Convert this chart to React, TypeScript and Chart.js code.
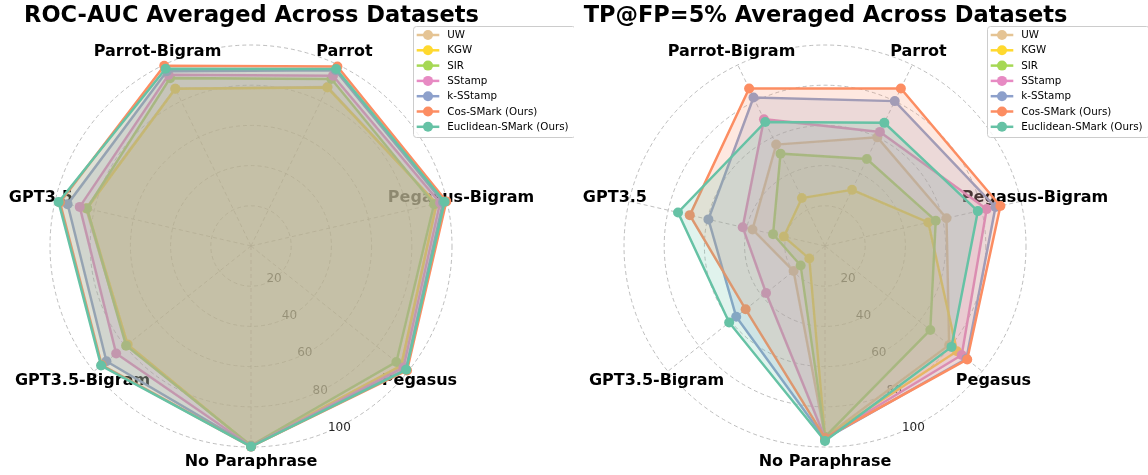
import React, { useEffect, useRef } from "react";
import { Chart, registerables } from "chart.js";

Chart.register(...registerables);

// Categories in clockwise order starting from the bottom axis
const categories = [
  "No Paraphrase",
  "GPT3.5-Bigram",
  "GPT3.5",
  "Parrot-Bigram",
  "Parrot",
  "Pegasus-Bigram",
  "Pegasus",
];
const methods = [
  "UW",
  "KGW",
  "SIR",
  "SStamp",
  "k-SStamp",
  "Cos-SMark (Ours)",
  "Euclidean-SMark (Ours)",
];
const colors = ["#e5c494", "#ffd92f", "#a6d854", "#e78ac3", "#8da0cb", "#fc8d62", "#66c2a5"];
const tickValues = [20, 40, 60, 80, 100];

// ROC-AUC (same category order as above)
const rocUW = [99.5, 79.0, 84.2, 86.8, 87.8, 94.7, 95.8];
const rocKGW = [99.5, 78.5, 83.7, 86.8, 87.5, 94.7, 95.5];
const rocSIR = [99.3, 79.5, 83.7, 92.7, 92.2, 93.4, 92.5];
const rocSStamp = [99.6, 85.8, 87.4, 94.5, 94.0, 96.5, 97.0];
const rocKSStamp = [99.7, 92.0, 93.6, 96.5, 97.0, 98.0, 98.5];
const rocCos = [99.8, 95.0, 97.5, 99.5, 99.1, 99.7, 99.3];
const rocEuc = [99.8, 95.4, 98.2, 97.9, 97.7, 98.8, 98.8];

// TP@FP=5%
const tpUW = [95.0, 20.0, 37.0, 56.0, 60.0, 62.0, 79.0];
const tpKGW = [95.0, 10.0, 21.0, 26.5, 31.0, 52.7, 84.0];
const tpSIR = [95.0, 15.5, 26.5, 51.0, 48.0, 56.5, 67.0];
const tpSStamp = [95.5, 37.5, 42.0, 70.0, 63.0, 82.5, 87.0];
const tpKSStamp = [96.0, 56.5, 59.5, 82.0, 80.0, 87.0, 90.0];
const tpCos = [95.5, 50.5, 69.0, 87.0, 87.0, 89.5, 90.5];
const tpEuc = [97.0, 61.0, 75.0, 68.5, 68.0, 78.0, 80.5];

const rocSeries = [rocUW, rocKGW, rocSIR, rocSStamp, rocKSStamp, rocCos, rocEuc];
const tpSeries = [tpUW, tpKGW, tpSIR, tpSStamp, tpKSStamp, tpCos, tpEuc];

const FONT = "'DejaVu Sans', sans-serif";
const W = 574;
const H = 475;

function hexToRgba(hex: string, a: number) {
  const n = parseInt(hex.slice(1), 16);
  return `rgba(${(n >> 16) & 255},${(n >> 8) & 255},${n & 255},${a})`;
}

function makeDecor(title: string) {
  return {
    id: "decor",
    beforeDatasetsDraw(chart: any) {
      const s = chart.scales.r;
      const ctx = chart.ctx as CanvasRenderingContext2D;
      ctx.save();
      ctx.font = `bold 16px ${FONT}`;
      ctx.fillStyle = "#000";
      ctx.textAlign = "center";
      ctx.textBaseline = "middle";
      categories.forEach((c, i) => {
        const p = s.getPointPosition(i, s.drawingArea * 1.072);
        ctx.fillText(c, p.x, p.y);
      });
      ctx.font = `12px ${FONT}`;
      ctx.fillStyle = "#262626";
      ctx.textAlign = "left";
      ctx.textBaseline = "alphabetic";
      const a = Math.PI / 2 - (22.5 * Math.PI) / 180;
      tickValues.forEach((v) => {
        const d = s.getDistanceFromCenterForValue(v);
        ctx.fillText(String(v), s.xCenter + Math.cos(a) * d, s.yCenter + Math.sin(a) * d - 1);
      });
      ctx.restore();
    },
    afterDraw(chart: any) {
      const s = chart.scales.r;
      const ctx = chart.ctx as CanvasRenderingContext2D;
      ctx.save();
      // title
      ctx.font = `bold 22.5px ${FONT}`;
      ctx.fillStyle = "#000";
      ctx.textAlign = "center";
      ctx.textBaseline = "alphabetic";
      ctx.fillText(title, s.xCenter + 0.5, 22);
      // legend
      const bx = 413.5, by = 26.5, bw = 162, bh = 111;
      ctx.beginPath();
      ctx.roundRect(bx, by, bw, bh, 3);
      ctx.fillStyle = "rgba(255,255,255,0.8)";
      ctx.fill();
      ctx.strokeStyle = "#cccccc";
      ctx.lineWidth = 1;
      ctx.stroke();
      ctx.font = `10.3px ${FONT}`;
      ctx.textAlign = "left";
      ctx.textBaseline = "middle";
      methods.forEach((m, i) => {
        const y = 35 + i * 15.3;
        ctx.strokeStyle = colors[i];
        ctx.lineWidth = 2.5;
        ctx.beginPath();
        ctx.moveTo(416.7, y);
        ctx.lineTo(439.3, y);
        ctx.stroke();
        ctx.fillStyle = colors[i];
        ctx.beginPath();
        ctx.arc(428, y, 5, 0, Math.PI * 2);
        ctx.fill();
        ctx.fillStyle = "#000";
        ctx.fillText(m, 447.3, y + 0.5);
      });
      ctx.restore();
    },
  };
}

function RadarPanel({ title, series }: { title: string; series: number[][] }) {
  const ref = useRef<HTMLCanvasElement | null>(null);
  useEffect(() => {
    if (!ref.current) return;
    const chart = new Chart(ref.current, {
      type: "radar",
      data: {
        labels: categories,
        datasets: series.map((d, i) => ({
          label: methods[i],
          data: d,
          order: series.length - 1 - i,
          borderColor: colors[i],
          backgroundColor: hexToRgba(colors[i], 0.2),
          pointBackgroundColor: colors[i],
          pointBorderColor: colors[i],
          pointBorderWidth: 0,
          pointRadius: 5,
          pointHoverRadius: 5,
          borderWidth: 2.5,
          fill: "origin",
          tension: 0,
        })),
      },
      options: {
        responsive: false,
        animation: false,
        events: [],
        layout: { padding: { left: 50, top: 45, right: 121, bottom: 27 } },
        plugins: {
          legend: { display: false },
          title: { display: false },
          tooltip: { enabled: false },
        },
        scales: {
          r: {
            min: 0,
            max: 100,
            startAngle: 180,
            ticks: { display: false, stepSize: 20 },
            pointLabels: { display: false },
            grid: { circular: true, color: "rgba(165,165,165,0.9)", lineWidth: 0.8 },
            border: { dash: [4, 3] },
            angleLines: {
              display: true,
              color: "rgba(165,165,165,0.9)",
              lineWidth: 0.8,
              borderDash: [4, 3],
            },
          },
        },
      },
      plugins: [makeDecor(title)],
    } as any);
    return () => chart.destroy();
  }, [title, series]);
  return (
    <div style={{ width: W, height: H, position: "relative" }}>
      <canvas ref={ref} width={W} height={H} style={{ display: "block" }} />
    </div>
  );
}

export default function App() {
  useEffect(() => {
    document.body.style.margin = "0";
  }, []);
  return (
    <div style={{ display: "flex", width: W * 2, height: H, background: "#fff" }}>
      <RadarPanel title="ROC-AUC Averaged Across Datasets" series={rocSeries} />
      <RadarPanel title="TP@FP=5% Averaged Across Datasets" series={tpSeries} />
    </div>
  );
}
